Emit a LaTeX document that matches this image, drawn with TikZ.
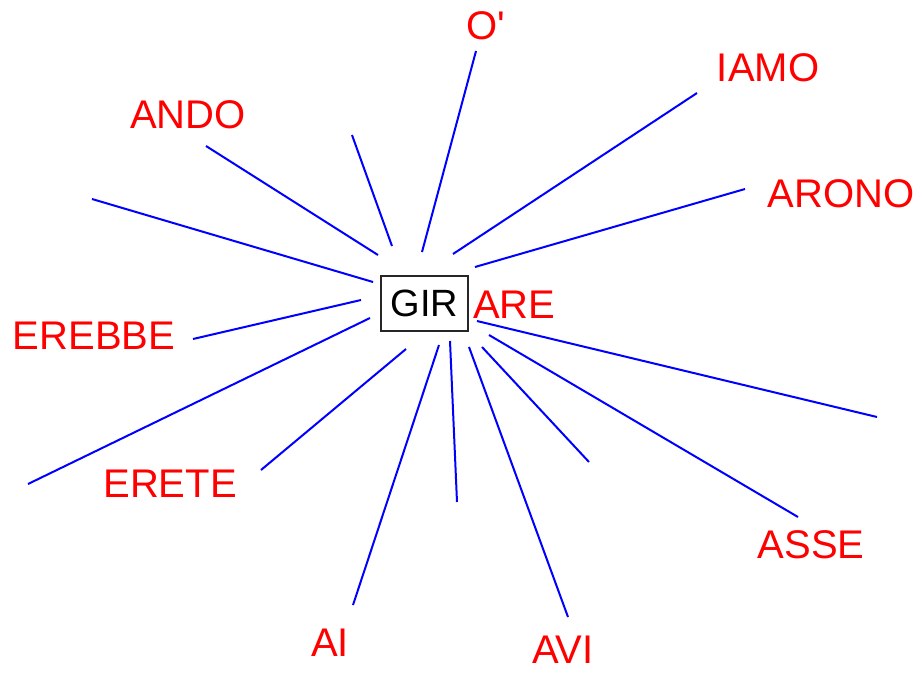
\documentclass[tikz,border=0pt]{standalone}
\usepackage{fontspec}
\newfontfamily\arialfont{Liberation Sans}
\usetikzlibrary{positioning}

\begin{document}
\begin{tikzpicture}[x=1pt, y=-1pt]
                \tikzstyle{stem} = [draw=black!85, line width=1.8pt, minimum width=87pt, minimum height=55pt, inner sep=0pt, font=\arialfont\fontsize{38}{40}\selectfont];
                \tikzstyle{ending} = [text=red, inner sep=0pt, text depth=0pt, anchor=base, font=\arialfont\fontsize{40}{42}\selectfont];
                \tikzstyle{ray} = [draw=blue, line width=2pt];

                \useasboundingbox (0,0) rectangle (921,673);

                \node[stem](GIR) at (424.4,303.2) {GIR};
                \node[ending, anchor=base west](ARE) at (473,318) {ARE};

                % endings
                \node[ending](ANDO) at (188,128) {ANDO};
                \node[ending](OP) at (486,39) {O\textquotesingle};
                \node[ending](IAMO) at (768,81) {IAMO};
                \node[ending](ARONO) at (841,207) {ARONO};
                \node[ending](EREBBE) at (94,349) {EREBBE};
                \node[ending](ERETE) at (170,497) {ERETE};
                \node[ending](AI) at (330,656) {AI};
                \node[ending](AVI) at (563,663) {AVI};
                \node[ending](ASSE) at (811,558) {ASSE};

                % inner ends
                \coordinate (ando-i) at (378,255);
                \coordinate (nw-i) at (392,246);
                \coordinate (op-i) at (422,252);
                \coordinate (iamo-i) at (453,254);
                \coordinate (arono-i) at (475,267);
                \coordinate (w-i) at (373,282);
                \coordinate (erebbe-i) at (361,300);
                \coordinate (sw-i) at (370,318);
                \coordinate (erete-i) at (406,349);
                \coordinate (ai-i) at (439,345);
                \coordinate (s-i) at (450,341);
                \coordinate (avi-i) at (469,347);
                \coordinate (se-i) at (482,347);
                \coordinate (asse-i) at (489,335);
                \coordinate (e-i) at (477,321);

                % outer ends
                \coordinate (ando-o) at (206,146);
                \coordinate (nw-o) at (352,135);
                \coordinate (op-o) at (476,51);
                \coordinate (iamo-o) at (697,93);
                \coordinate (arono-o) at (745,189);
                \coordinate (w-o) at (92,199);
                \coordinate (erebbe-o) at (193,339);
                \coordinate (sw-o) at (28,484);
                \coordinate (erete-o) at (261,470);
                \coordinate (ai-o) at (353,605);
                \coordinate (s-o) at (457,502);
                \coordinate (avi-o) at (568,617);
                \coordinate (se-o) at (589,462);
                \coordinate (asse-o) at (798,517);
                \coordinate (e-o) at (877,417);

                \draw[ray]
                    (ando-i) -- (ando-o)
                    (nw-i) -- (nw-o)
                    (op-i) -- (op-o)
                    (iamo-i) -- (iamo-o)
                    (arono-i) -- (arono-o)
                    (w-i) -- (w-o)
                    (erebbe-i) -- (erebbe-o)
                    (sw-i) -- (sw-o)
                    (erete-i) -- (erete-o)
                    (ai-i) -- (ai-o)
                    (s-i) -- (s-o)
                    (avi-i) -- (avi-o)
                    (se-i) -- (se-o)
                    (asse-i) -- (asse-o)
                    (e-i) -- (e-o)
                ;
            \end{tikzpicture}
\end{document}
